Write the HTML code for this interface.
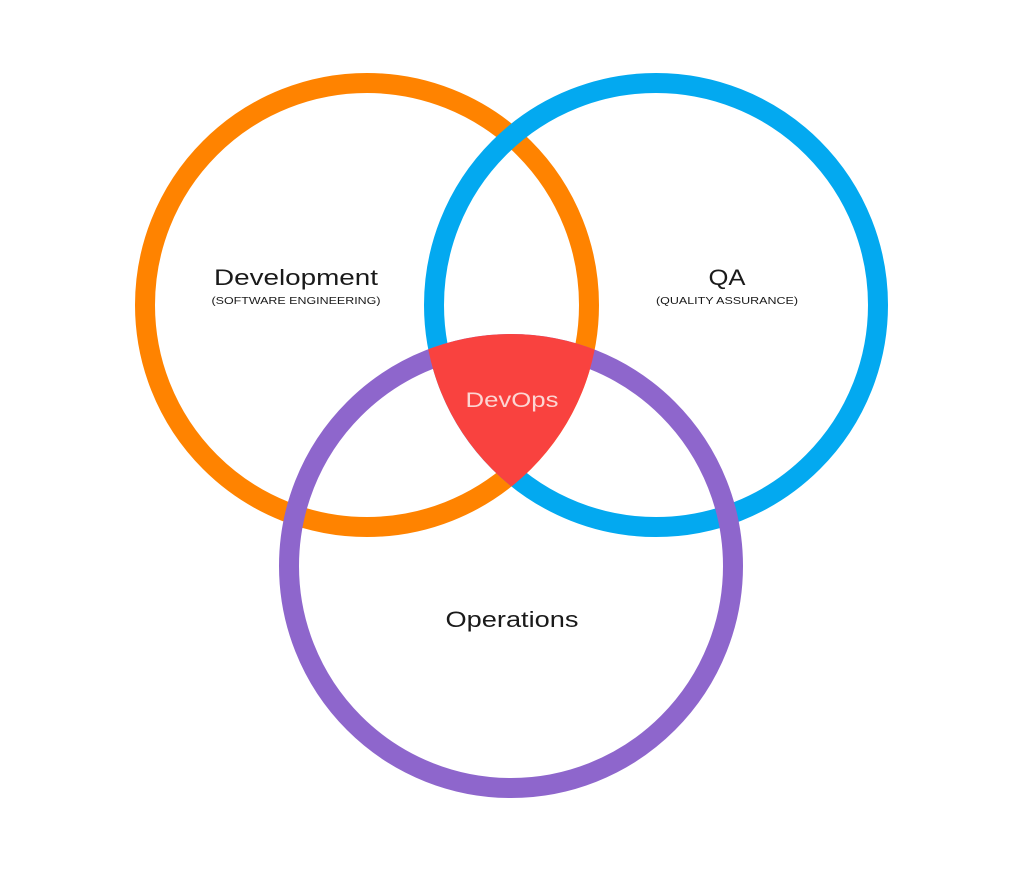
<!DOCTYPE html>
<html><head><style>
html,body{margin:0;padding:0;background:#fff;width:1024px;height:870px;overflow:hidden}
</style></head><body>
<svg width="1024" height="870" viewBox="0 0 1024 870" xmlns="http://www.w3.org/2000/svg" font-family="Liberation Sans, sans-serif">
<defs>
<clipPath id="c1"><circle cx="367" cy="305" r="232"/></clipPath>
<clipPath id="c2"><circle cx="656" cy="305" r="232"/></clipPath>
</defs>
<circle cx="367" cy="305" r="222" fill="none" stroke="#ff8300" stroke-width="20"/>
<circle cx="656" cy="305" r="222" fill="none" stroke="#03a9f0" stroke-width="20"/>
<circle cx="511" cy="566" r="222" fill="none" stroke="#8e66cc" stroke-width="20"/>
<g clip-path="url(#c1)"><g clip-path="url(#c2)"><circle cx="511" cy="566" r="232" fill="#f9423f"/></g></g>
<text x="296" y="285" text-anchor="middle" font-size="22" fill="#1a1a1a" textLength="164" lengthAdjust="spacingAndGlyphs">Development</text>
<text x="296" y="304" text-anchor="middle" font-size="10" fill="#1a1a1a" textLength="169" lengthAdjust="spacingAndGlyphs">(SOFTWARE ENGINEERING)</text>
<text x="727" y="285" text-anchor="middle" font-size="22" fill="#1a1a1a" textLength="37" lengthAdjust="spacingAndGlyphs">QA</text>
<text x="727" y="304" text-anchor="middle" font-size="10" fill="#1a1a1a" textLength="142" lengthAdjust="spacingAndGlyphs">(QUALITY ASSURANCE)</text>
<text x="512" y="407" text-anchor="middle" font-size="21" fill="#fcd6d3" textLength="93" lengthAdjust="spacingAndGlyphs">DevOps</text>
<text x="512" y="627" text-anchor="middle" font-size="22" fill="#1a1a1a" textLength="133" lengthAdjust="spacingAndGlyphs">Operations</text>
</svg>
</body></html>
